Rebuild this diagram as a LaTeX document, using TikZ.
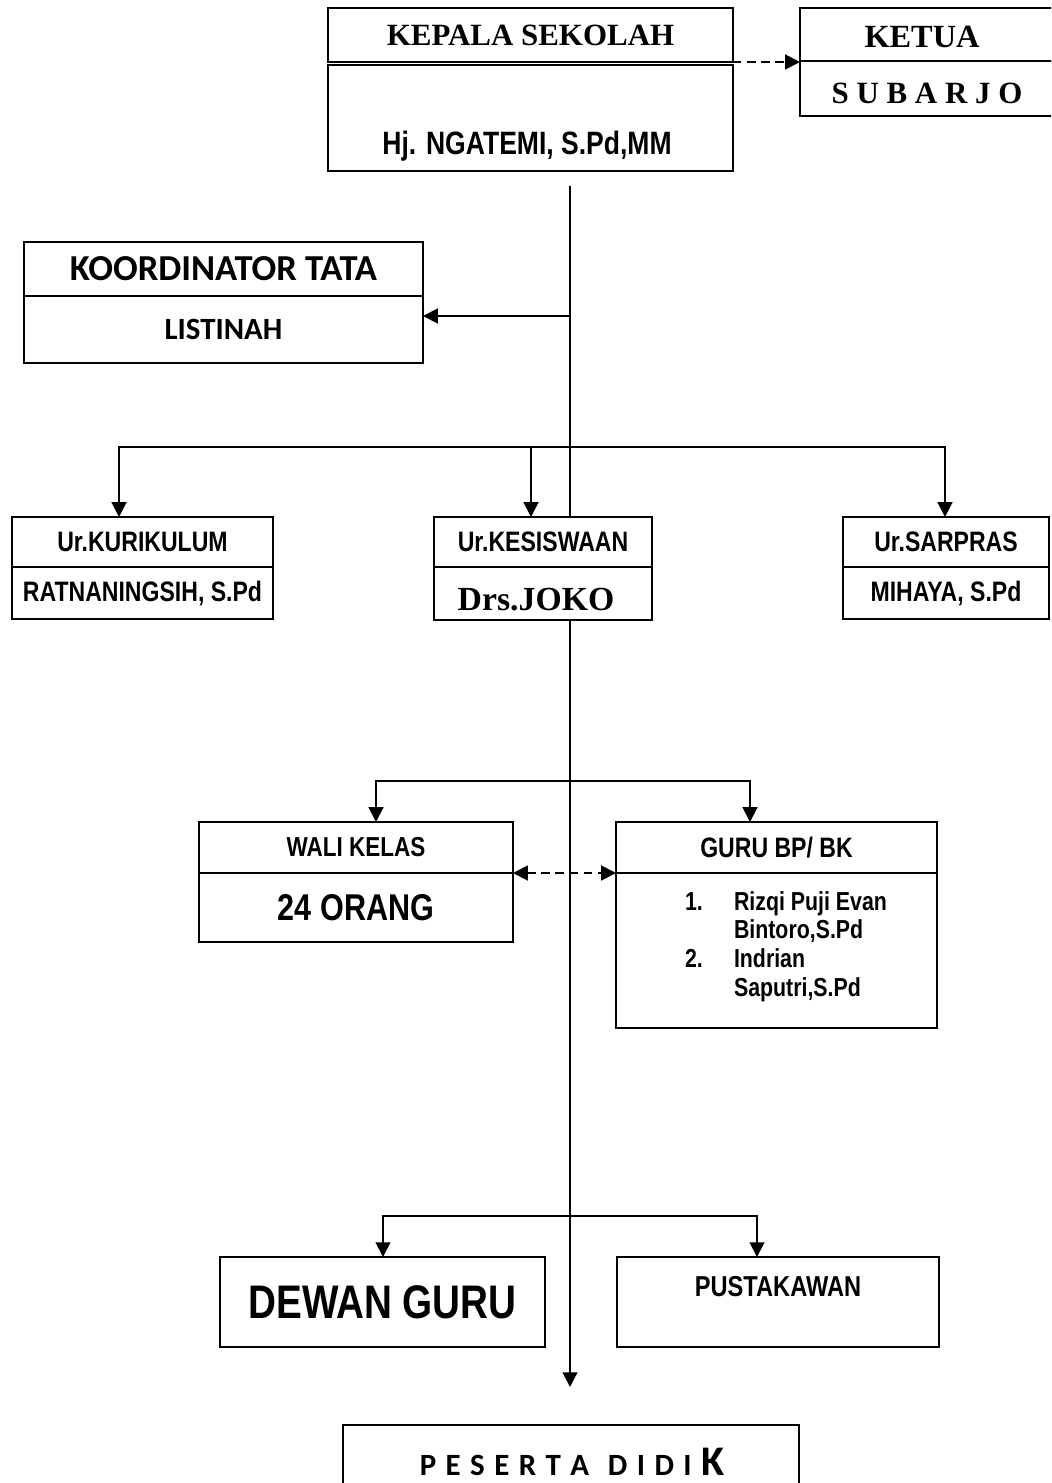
\documentclass[tikz,border=0pt]{standalone}
\usepackage{fontspec}
\setmainfont{Liberation Serif}
\newfontfamily\narrowsans{Liberation Sans}[FakeStretch=0.82]
\newfontfamily\calibrifont{Carlito}
\usetikzlibrary{positioning,arrows.meta}

\newcommand\pxu{0.025cm}
\newcommand\fsz[1]{\fontsize{#1}{#1}\selectfont}

\tikzset{
  cell/.style={draw, line width=1.4pt, fill=white, inner sep=0pt, outer sep=0pt, align=center},
  txt/.style={inner sep=0pt, outer sep=0pt},
  link/.style={line width=1.4pt, ->},
  dashlink/.style={link, dash pattern=on 6pt off 4pt},
  >={Triangle[length=10.5pt,width=10.5pt]}
}

\begin{document}
\begin{tikzpicture}[x=\pxu, y=-\pxu]
  \useasboundingbox (0,0) rectangle (1051,1483);
  \clip (0,0) rectangle (1051,1483);

  % main line
  \coordinate (trunktop) at (570,186);
  \coordinate (trunkend) at (570,1387);
  \draw[link] (trunktop) -- (trunkend);

  % kepala sekolah
  \node[cell, anchor=north west, minimum width=405*\pxu, minimum height=54*\pxu,
        font=\bfseries\fsz{22}] (kepalaH) at (328,8) {KEPALA SEKOLAH};
  \node[cell, below=0.075cm of kepalaH, minimum width=405*\pxu, minimum height=106*\pxu] (kepalaB) {};
  \node[txt, anchor=base, font=\narrowsans\bfseries\fsz{23}] (kepalaName) at (527,155) {Hj. NGATEMI, S.Pd,MM};

  % ketua
  \node[cell, anchor=north west, minimum width=290*\pxu, minimum height=53*\pxu] (ketuaH) at (800,8) {};
  \node[cell, below=0pt of ketuaH, minimum width=290*\pxu, minimum height=55*\pxu] (ketuaB) {};
  \node[txt, anchor=base, font=\bfseries\fsz{23}] (ketuaTitle) at (922,48) {KETUA};
  \node[txt, anchor=base, font=\bfseries\fsz{22}] (ketuaName) at (927,104) {S U B A R J O};
  \draw[dashlink] (kepalaH.south east) -- (kepalaH.south east -| ketuaH.west);

  % koordinator tata usaha
  \node[cell, anchor=north west, minimum width=399*\pxu, minimum height=54*\pxu,
        font=\calibrifont\bfseries\fsz{26}] (koordH) at (24,242) {KOORDINATOR TATA};
  \node[cell, below=0pt of koordH, minimum width=399*\pxu, minimum height=67*\pxu,
        font=\calibrifont\bfseries\fsz{22}] (koordB) {LISTINAH};
  \coordinate (koordJ) at (570,316);
  \draw[link] (koordJ) -- (koordJ -| koordB.east);

  % urusan
  \node[cell, anchor=north west, minimum width=261*\pxu, minimum height=50*\pxu,
        font=\narrowsans\bfseries\fsz{20}] (kurH) at (12,517) {Ur.KURIKULUM};
  \node[cell, below=0pt of kurH, minimum width=261*\pxu, minimum height=52*\pxu,
        font=\narrowsans\bfseries\fsz{20}] (kurB) {RATNANINGSIH, S.Pd};
  \node[cell, anchor=north west, minimum width=218*\pxu, minimum height=50*\pxu,
        font=\narrowsans\bfseries\fsz{20}] (kesH) at (434,517) {Ur.KESISWAAN};
  \node[cell, below=0pt of kesH, minimum width=218*\pxu, minimum height=53*\pxu] (kesB) {};
  \node[txt, anchor=base, font=\bfseries\fsz{24}] (kesName) at (536,610) {Drs.JOKO};
  \node[cell, anchor=north west, minimum width=206*\pxu, minimum height=50*\pxu,
        font=\narrowsans\bfseries\fsz{20}] (sarH) at (843,517) {Ur.SARPRAS};
  \node[cell, below=0pt of sarH, minimum width=206*\pxu, minimum height=52*\pxu,
        font=\narrowsans\bfseries\fsz{20}] (sarB) {MIHAYA, S.Pd};

  \coordinate (urJ) at (570,447);
  \coordinate (urL) at (119,447);
  \coordinate (urM) at (531,447);
  \coordinate (urR) at (945,447);
  \draw[link] (urJ) -| (urL |- kurH.north);
  \draw[link] (urJ) -| (urR |- sarH.north);
  \draw[link] (urM) -- (urM |- kesH.north);

  % wali kelas, guru bp/bk
  \node[cell, anchor=north west, minimum width=314*\pxu, minimum height=51*\pxu,
        font=\narrowsans\bfseries\fsz{19.5}] (waliH) at (199,822) {WALI KELAS};
  \node[cell, below=0pt of waliH, minimum width=314*\pxu, minimum height=69*\pxu,
        font=\narrowsans\bfseries\fsz{26.5}] (waliB) {24 ORANG};
  \node[cell, anchor=north west, minimum width=321*\pxu, minimum height=51*\pxu,
        font=\narrowsans\bfseries\fsz{20}] (guruH) at (616,822) {GURU BP/ BK};
  \node[cell, below=0pt of guruH, minimum width=321*\pxu, minimum height=155*\pxu] (guruB) {};
  \node[txt, anchor=base west, font=\narrowsans\bfseries\fontsize{18.5}{20.6}\selectfont] (guruList) at (685,910)
    {\begin{tabular}[t]{@{}p{1.225cm}@{}l@{}}
      1. & Rizqi Puji Evan\\
         & Bintoro,S.Pd\\
      2. & Indrian\\
         & Saputri,S.Pd
    \end{tabular}};

  \coordinate (waliJ) at (570,781);
  \coordinate (waliL) at (376,781);
  \coordinate (waliR) at (750,781);
  \draw[link] (waliJ) -| (waliL |- waliH.north);
  \draw[link] (waliJ) -| (waliR |- guruH.north);
  \draw[dashlink, <->] (waliH.south east) -- (guruH.south west);

  % dewan guru, pustakawan
  \node[cell, anchor=north west, minimum width=325*\pxu, minimum height=90*\pxu,
        font=\narrowsans\bfseries\fsz{33.5}] (dewan) at (220,1257) {DEWAN GURU};
  \node[cell, anchor=north west, minimum width=322*\pxu, minimum height=90*\pxu] (pustaka) at (617,1257) {};
  \node[txt, anchor=base, font=\narrowsans\bfseries\fsz{20.5}] (pustakaText) at (778,1296) {PUSTAKAWAN};

  \coordinate (guruJ) at (570,1216);
  \coordinate (guruL) at (383,1216);
  \coordinate (guruR) at (757,1216);
  \draw[link] (guruJ) -| (guruL |- dewan.north);
  \draw[link] (guruJ) -| (guruR |- pustaka.north);

  % peserta didik
  \node[cell, anchor=north west, minimum width=456*\pxu, minimum height=100*\pxu] (peserta) at (343,1425) {};
  \node[txt, anchor=base, font=\calibrifont\bfseries\fsz{22}] (pesertaText) at (572,1475)
    {\spaceskip=6.7pt\relax P E S E R T A\ \ D I D I {\fsz{30}K}};
\end{tikzpicture}
\end{document}
